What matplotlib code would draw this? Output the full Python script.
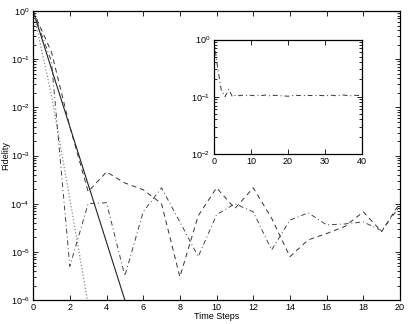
import numpy as np
import matplotlib
matplotlib.use("Agg")
import matplotlib.pyplot as plt
from matplotlib.ticker import LogLocator, NullFormatter

plt.rcParams['font.family'] = ['Liberation Sans', 'DejaVu Sans']
plt.rcParams['mathtext.fontset'] = 'custom'
plt.rcParams['mathtext.rm'] = 'Liberation Sans'
plt.rcParams['mathtext.it'] = 'Liberation Sans'

# main plot data (log10 of fidelity)
steps = list(range(21))
solid_steps = [0, 1, 2, 3, 4, 5]
solid_log = [0, -1.2, -2.4, -3.6, -4.8, -6.0]
dotted_steps = [0, 1, 2, 3]
dotted_log = [0, -1.75, -3.9, -6.1]
dashed_log = [0, -0.85, -2.4, -3.75, -3.34, -3.57, -3.71, -4.0, -5.52, -4.25,
              -3.67, -4.1, -3.67, -4.3, -5.1, -4.75, -4.62, -4.47, -4.17, -4.58, -3.98]
dashdot_log = [0, -1.05, -5.3, -4.0, -3.98, -5.5, -4.17, -3.67, -4.38, -5.1,
               -4.23, -4.0, -4.17, -4.96, -4.34, -4.19, -4.44, -4.42, -4.38, -4.56, -4.05]

# inset data
inset_steps = list(range(41))
inset_vals = [1.0, 0.32, 0.13, 0.10, 0.135, 0.10, 0.108, 0.104, 0.107, 0.105,
              0.106, 0.104, 0.106, 0.105, 0.107, 0.104, 0.105, 0.106, 0.104, 0.103,
              0.102, 0.104, 0.106, 0.105, 0.104, 0.106, 0.105, 0.104, 0.106, 0.105,
              0.104, 0.105, 0.106, 0.104, 0.105, 0.107, 0.105, 0.104, 0.106, 0.105, 0.105]

def tidy(ax):
    ax.set_yscale('log')
    ax.tick_params(which='both', direction='in', top=True, right=True,
                   labelsize=6.5, width=0.6, pad=2.5)
    ax.tick_params(which='major', length=3.5)
    ax.tick_params(which='minor', length=2)
    ax.yaxis.set_minor_locator(LogLocator(base=10, subs=np.arange(2, 10), numticks=20))
    ax.yaxis.set_minor_formatter(NullFormatter())
    for s in ax.spines.values():
        s.set_linewidth(0.9)

fig = plt.figure(figsize=(4.09, 3.24), dpi=100)
ax = fig.add_axes([0.081, 0.074, 0.897, 0.892])
ax.plot(solid_steps, 10.0 ** np.array(solid_log), '-', color='#222222', lw=0.8)
ax.plot(dotted_steps, 10.0 ** np.array(dotted_log), ':', color='#888888', lw=0.9)
ax.plot(steps, 10.0 ** np.array(dashed_log), '--', color='#333333', lw=0.7, dashes=(5, 4))
ax.plot(steps, 10.0 ** np.array(dashdot_log), '-.', color='#444444', lw=0.7, dashes=(5, 3, 1, 3))
tidy(ax)
ax.set_xlim(0, 20)
ax.set_ylim(1e-6, 1)
ax.set_xticks(range(0, 21, 2))
ax.set_yticks([10.0 ** k for k in range(-6, 1)])
ax.set_yticklabels([r'$10^{%d}$' % k for k in range(-6, 1)])
ax.set_xlabel('Time Steps', fontsize=6.5)
ax.set_ylabel('Fidelity', fontsize=6.5)
ax.xaxis.set_label_coords(0.5, -0.058)
ax.yaxis.set_label_coords(-0.074, 0.5)
ax.xaxis.label.set_va('center')
ax.yaxis.label.set_va('center')

ins = fig.add_axes([0.523, 0.525, 0.362, 0.353])
ins.plot(inset_steps, inset_vals, '-.', color='#333333', lw=0.7, dashes=(5, 3, 1, 3))
tidy(ins)
ins.set_xlim(0, 40)
ins.set_ylim(1e-2, 1)
ins.set_xticks([0, 10, 20, 30, 40])
ins.set_yticks([1e-2, 1e-1, 1])
ins.set_yticklabels([r'$10^{-2}$', r'$10^{-1}$', r'$10^{0}$'])

fig.savefig('out.png', dpi=100)
